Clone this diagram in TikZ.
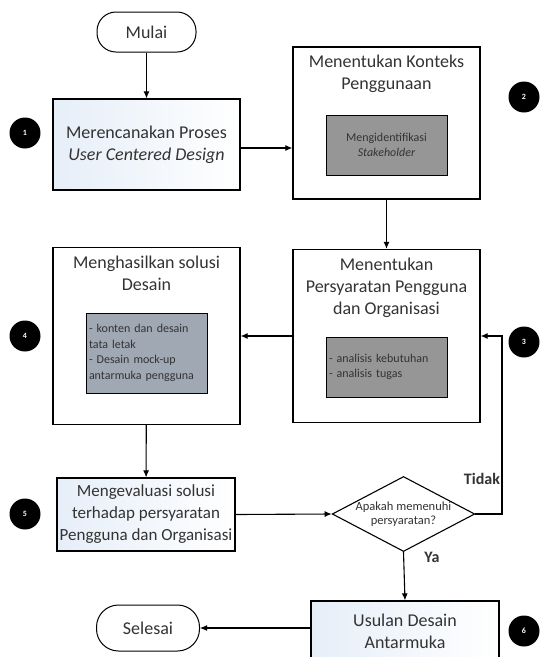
\documentclass[tikz,border=0pt]{standalone}
\usepackage{fontspec}
\setmainfont{Carlito}
\usetikzlibrary{shapes.geometric,positioning,arrows.meta}

\definecolor{birumuda}{RGB}{230,238,248}
\definecolor{abuisi}{RGB}{150,150,150}
\definecolor{abubiru}{RGB}{160,168,180}

\begin{document}
\begin{tikzpicture}[x=1pt,y=1pt,yscale=-1,xscale=1,
	every node/.style={font=\fontsize{18}{22}\selectfont,text=black!80},
	garis/.style={line width=1.1pt},
	panah/.style={garis,-{Latex[length=7pt,width=6pt]}},
	kotak/.style={draw,line width=1.2pt,inner sep=0pt,align=center},
	biru/.style={left color=birumuda,right color=white},
	isi/.style={draw,line width=1pt,inner sep=2pt,align=left,fill=abuisi,font=\fontsize{12}{15.5}\selectfont},
	terminal/.style={draw,line width=1pt,rounded corners=19pt,minimum width=99pt,minimum height=40pt},
	nomor/.style={circle,fill=black,minimum size=31pt,inner sep=0pt,text=white,font=\fontsize{8}{9}\selectfont\bfseries},
	label/.style={font=\fontsize{16}{18}\selectfont\bfseries}]
			\clip (0,0) rectangle (541,657);
			\fill[white] (0,0) rectangle (541,657);

			\node[terminal] (mulai) at (146.5,32) {Mulai};
			\node[kotak,biru,minimum width=187pt,minimum height=91pt] (rencana) at (146.5,144.5) {Merencanakan Proses\\\textit{User Centered Design}};
			\node[kotak,minimum width=187pt,minimum height=152pt] (konteks) at (386.5,123) {};
			\node[kotak,minimum width=187pt,minimum height=173pt] (syarat) at (386.5,336) {};
			\node[kotak,minimum width=187pt,minimum height=177pt] (solusi) at (146.5,336) {};
			\node[kotak,biru,minimum width=178pt,minimum height=73pt,font=\fontsize{17}{22}\selectfont] (evaluasi) at (146,514.5) {Mengevaluasi solusi\\terhadap persyaratan\\Pengguna dan Organisasi};
			\node[draw,line width=1.1pt,diamond,aspect=1.9,minimum width=137pt,minimum height=72pt,inner sep=0pt,align=center,font=\fontsize{12.5}{14}\selectfont] (cek) at (403.5,514) {Apakah memenuhi\\persyaratan?};
			\node[kotak,biru,minimum width=188pt,minimum height=60pt] (usulan) at (405,631) {Usulan Desain\\Antarmuka};
			\node[terminal,minimum width=103pt,minimum height=46pt,rounded corners=22pt] (selesai) at (148,628) {Selesai};

			\node[align=center] (judul2) at (386.5,74) {Menentukan Konteks\\Penggunaan};
			\node[align=center] (judul3) at (386.5,288) {Menentukan\\Persyaratan Pengguna\\dan Organisasi};
			\node[align=center] (judul4) at (146.5,273.5) {Menghasilkan solusi\\Desain};

			\node[isi,align=center,minimum width=121pt,minimum height=60pt] (isi2) at (386.5,145) {Mengidentifikasi\\\textit{Stakeholder}};
			\node[isi,minimum width=121pt,minimum height=60pt,text width=115pt] (isi3) at (386.5,367) {- analisis kebutuhan\\- analisis tugas};
			\node[isi,fill=abubiru,minimum width=121pt,minimum height=80pt,text width=115pt] (isi4) at (146.5,353) {- konten dan desain\\tata letak\\- Desain mock-up\\antarmuka pengguna};

			\node[nomor] (n1) at (25,133) {1};
			\node[nomor] (n2) at (524,97) {2};
			\node[nomor] (n3) at (524,342) {3};
			\node[nomor] (n4) at (25,336) {4};
			\node[nomor] (n5) at (25,514) {5};
			\node[nomor] (n6) at (524,631) {6};

			\coordinate (belok) at (502,514);

			\draw[panah] (mulai) -- (rencana);
			\draw[panah] ([yshift=3.5pt]rencana.east) -- ([yshift=3.5pt]rencana.east -| konteks.west);
			\draw[panah] (konteks) -- (syarat);
			\draw[panah] (syarat.west) -- (solusi.east);
			\draw[panah] (solusi) -- (evaluasi);
			\draw[panah] (evaluasi.east) -- (cek.west);
			\draw[panah] (cek.east) -- (belok) |- (syarat.east);
			\draw[panah] (cek.south) -- (usulan.north);
			\draw[panah] (selesai.east -| usulan.west) -- (selesai.east);

			\node[label] (tidak) at (482,479) {Tidak};
			\node[label] (ya) at (432,557) {Ya};
			\end{tikzpicture}
\end{document}
